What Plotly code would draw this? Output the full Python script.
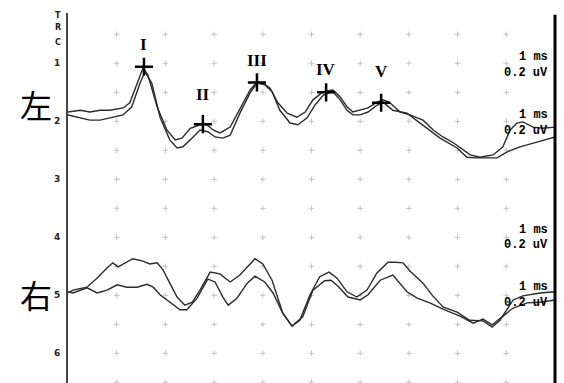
import plotly.graph_objects as go

# ---------------- data ----------------
# time in ms, level in channel-axis units (1..6, downward)
left_a_t = [0, 0.25, 0.45, 0.66, 0.86, 1.13, 1.27, 1.44, 1.54, 1.64, 1.83, 2.03, 2.20, 2.34, 2.51, 2.71, 2.85, 2.98,
            3.12, 3.33, 3.53, 3.74, 3.88, 4.00, 4.15, 4.31, 4.50, 4.70, 4.87, 5.03, 5.24, 5.44, 5.59, 5.73, 5.85, 6.00,
            6.16, 6.35, 6.47, 6.61, 6.82, 7.02, 7.29, 7.50, 7.70, 7.91, 8.11, 8.26, 8.46, 8.73, 8.93, 9.08, 9.22, 9.34,
            9.55, 9.75, 10.0]
left_a_y = [1.84, 1.81, 1.84, 1.81, 1.81, 1.77, 1.68, 1.29, 1.08, 1.20, 1.75, 2.15, 2.32, 2.29, 2.12, 2.06, 2.06, 2.15,
            2.20, 2.10, 1.80, 1.46, 1.32, 1.34, 1.43, 1.68, 1.86, 1.93, 1.84, 1.63, 1.49, 1.46, 1.58, 1.75, 1.84, 1.81,
            1.77, 1.67, 1.63, 1.68, 1.84, 1.89, 1.98, 2.15, 2.27, 2.37, 2.49, 2.58, 2.62, 2.58, 2.44, 2.15, 2.03, 2.01,
            2.10, 2.12, 2.10]

left_b_t = [0, 0.25, 0.45, 0.66, 0.86, 1.13, 1.31, 1.48, 1.58, 1.72, 1.89, 2.09, 2.24, 2.36, 2.57, 2.71, 2.87, 3.02,
            3.18, 3.33, 3.53, 3.74, 3.88, 4.04, 4.19, 4.35, 4.56, 4.72, 4.91, 5.07, 5.24, 5.44, 5.59, 5.73, 5.85, 6.00,
            6.16, 6.35, 6.47, 6.67, 6.96, 7.23, 7.43, 7.64, 7.99, 8.19, 8.40, 8.67, 8.81, 9.01, 9.28, 9.63, 10.0]
left_b_y = [1.89, 1.94, 1.98, 1.98, 1.94, 1.89, 1.75, 1.34, 1.15, 1.34, 1.93, 2.32, 2.46, 2.44, 2.27, 2.15, 2.18, 2.27,
            2.29, 2.24, 1.86, 1.51, 1.34, 1.37, 1.49, 1.81, 2.03, 2.06, 1.94, 1.72, 1.55, 1.49, 1.63, 1.81, 1.89, 1.89,
            1.84, 1.72, 1.67, 1.81, 1.86, 2.03, 2.15, 2.29, 2.46, 2.62, 2.63, 2.63, 2.63, 2.53, 2.44, 2.36, 2.27]

right_a_t = [0, 0.10, 0.39, 0.60, 0.80, 0.92, 1.03, 1.17, 1.33, 1.54, 1.68, 1.83, 1.95, 2.09, 2.24, 2.40, 2.55, 2.71,
             2.92, 3.12, 3.33, 3.53, 3.84, 4.00, 4.19, 4.41, 4.60, 4.76, 4.97, 5.17, 5.36, 5.52, 5.73, 5.93, 6.14, 6.34,
             6.57, 6.71, 6.88, 7.02, 7.29, 7.49, 7.70, 7.99, 8.25, 8.52, 8.71, 8.87, 9.01, 9.14, 9.34, 9.69, 10.0]
right_a_y = [4.96, 4.91, 4.86, 4.70, 4.53, 4.44, 4.51, 4.44, 4.37, 4.41, 4.46, 4.44, 4.56, 4.79, 5.03, 5.17, 5.12, 4.91,
             4.60, 4.63, 4.77, 4.65, 4.37, 4.46, 4.74, 5.31, 5.53, 5.43, 4.99, 4.68, 4.60, 4.70, 4.94, 5.03, 4.91, 4.62,
             4.43, 4.43, 4.44, 4.58, 4.79, 5.01, 5.20, 5.29, 5.43, 5.44, 5.55, 5.43, 5.25, 5.08, 5.01, 4.96, 4.94]

right_b_t = [0, 0.10, 0.39, 0.60, 0.80, 1.01, 1.21, 1.42, 1.62, 1.75, 1.89, 2.09, 2.30, 2.44, 2.65, 2.87, 3.02, 3.18,
             3.29, 3.47, 3.68, 3.84, 4.04, 4.21, 4.41, 4.60, 4.82, 5.03, 5.27, 5.40, 5.54, 5.75, 6.00, 6.16, 6.41, 6.67,
             6.82, 6.96, 7.17, 7.43, 7.70, 8.05, 8.32, 8.52, 8.71, 8.93, 9.14, 9.43, 9.69, 10.0]
right_b_y = [4.94, 4.96, 4.87, 4.96, 4.91, 4.82, 4.86, 4.86, 4.81, 4.86, 4.99, 5.12, 5.25, 5.25, 5.05, 4.72, 4.77, 5.03,
             5.17, 5.05, 4.79, 4.67, 4.77, 4.96, 5.31, 5.53, 5.37, 4.91, 4.75, 4.74, 4.84, 5.03, 5.08, 4.99, 4.74, 4.65,
             4.79, 4.94, 5.05, 5.13, 5.24, 5.36, 5.48, 5.41, 5.51, 5.36, 5.22, 5.13, 5.12, 5.08]

peak_names = ["I", "II", "III", "IV", "V"]
peak_t = [1.56, 2.77, 3.88, 5.30, 6.43]
peak_y = [1.06, 2.05, 1.33, 1.50, 1.68]

channel_ticks = [1, 2, 3, 4, 5, 6]
channel_tick_text = ["1", "2", "3", "4", "5", "6"]
header_letters = ["T", "R", "C"]
header_levels = [0.17, 0.39, 0.65]
side_names = ["左", "右"]
side_levels = [1.70, 4.97]
scale_levels = [0.89, 1.89, 3.87, 4.86]
scale_time_text = "1 ms"
scale_amp_text = "0.2 uV"

grid_t = [1, 2, 3, 4, 5, 6, 7, 8, 9]
grid_levels = [0.5 * k for k in range(1, 14)]

# ---------------- figure ----------------
LINE = "#2b2b2b"
fig = go.Figure()

gx, gy = [], []
for t in grid_t:
    for lv in grid_levels:
        gx.append(t)
        gy.append(lv)
fig.add_trace(go.Scatter(x=gx, y=gy, mode="markers", hoverinfo="skip",
                         marker=dict(symbol="cross-thin", size=4, color="#c4c4c4",
                                     line=dict(width=1, color="#c4c4c4"))))

for tx, ty in [(left_a_t, left_a_y), (left_b_t, left_b_y), (right_a_t, right_a_y), (right_b_t, right_b_y)]:
    fig.add_trace(go.Scatter(x=tx, y=ty, mode="lines", line=dict(color=LINE, width=1.4), hoverinfo="skip"))

fig.add_trace(go.Scatter(x=peak_t, y=peak_y, mode="markers", hoverinfo="skip",
                         marker=dict(symbol="cross-thin", size=13, color="black",
                                     line=dict(width=2.5, color="black"))))

label_shift = [22, 30, 22, 23, 31]
for name, t, y, s in zip(peak_names, peak_t, peak_y, label_shift):
    fig.add_annotation(x=t, y=y, text=name, showarrow=False, yshift=s,
                       font=dict(family="Liberation Serif, DejaVu Serif, serif", size=17, color="black", weight="bold"))

for ch, lv in zip(header_letters, header_levels):
    fig.add_annotation(x=0, y=lv, text=ch, showarrow=False, xanchor="right", xshift=-5,
                       font=dict(family="DejaVu Sans, sans-serif", size=8, color="#222", weight="bold"))

for nm, lv in zip(side_names, side_levels):
    fig.add_annotation(x=0, y=lv, text=nm, showarrow=False, xanchor="center", xshift=-32,
                       font=dict(family="Noto Sans CJK SC, sans-serif", size=32, color="black"))

for lv in scale_levels:
    fig.add_annotation(x=9.9, y=lv, text=scale_time_text, showarrow=False, xanchor="right",
                       font=dict(family="Liberation Mono, DejaVu Sans Mono, monospace", size=12, color="black",
                                 weight="bold"))
    fig.add_annotation(x=9.9, y=lv + 0.27, text=scale_amp_text, showarrow=False, xanchor="right",
                       font=dict(family="Liberation Mono, DejaVu Sans Mono, monospace", size=12, color="black",
                                 weight="bold"))

fig.add_shape(type="line", xref="paper", yref="paper", x0=1.0, x1=1.0, y0=0, y1=0.995,
              line=dict(color="black", width=3))

fig.update_layout(
    width=564, height=383,
    margin=dict(l=68, r=9, t=13, b=0),
    paper_bgcolor="white", plot_bgcolor="white",
    showlegend=False,
    xaxis=dict(range=[0, 10], visible=False, fixedrange=True),
    yaxis=dict(range=[6.512, 0.133], tickvals=channel_ticks, ticktext=channel_tick_text,
               showgrid=False, zeroline=False, showline=True, linecolor="#444", linewidth=2,
               ticks="", ticklabelstandoff=4, fixedrange=True,
               tickfont=dict(family="DejaVu Sans, sans-serif", size=9, color="#222", weight="bold")),
)

fig.write_html("out.html", config={"displayModeBar": False},
               post_script="document.body.style.margin='0';")
